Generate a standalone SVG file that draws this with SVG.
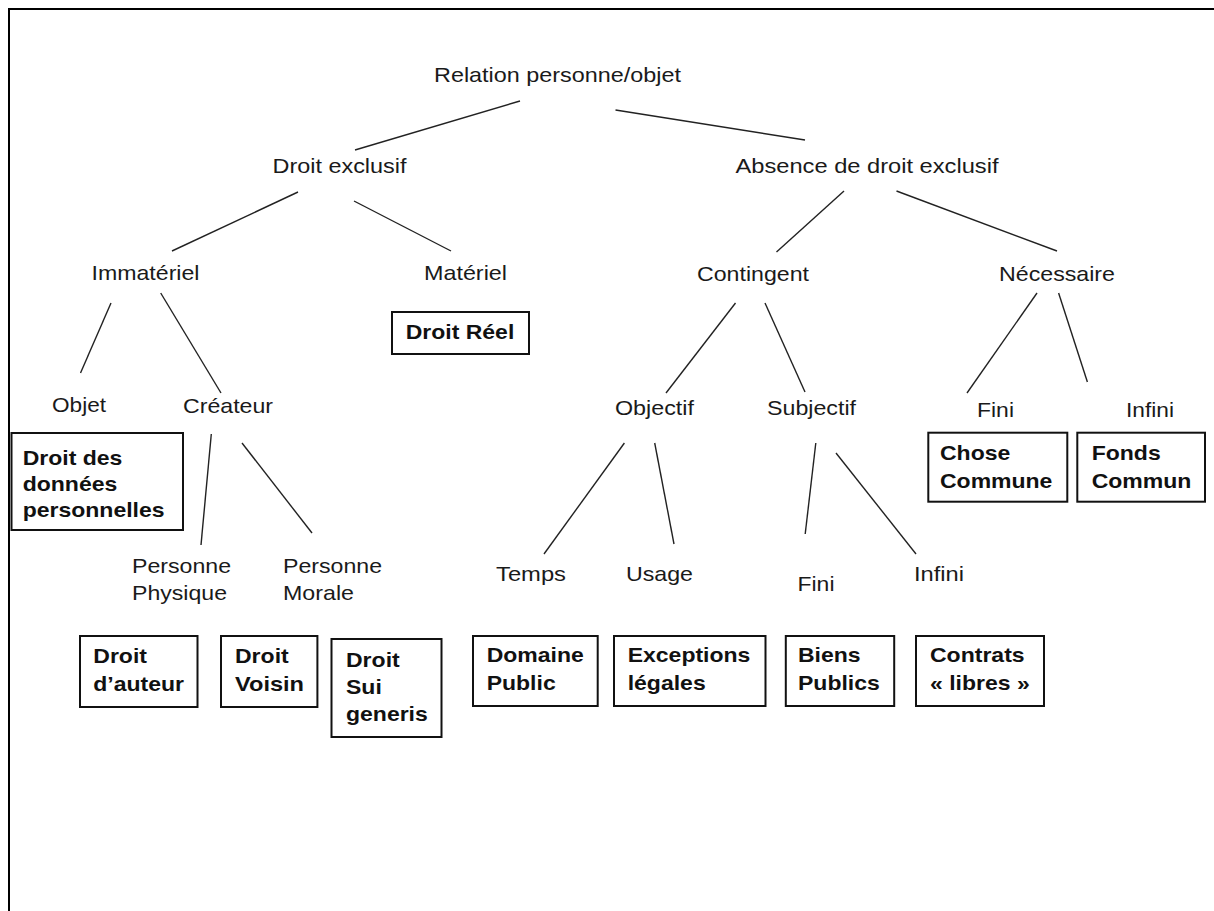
<svg xmlns="http://www.w3.org/2000/svg" width="1214" height="911" viewBox="0 0 1214 911">
<style>
.t{font-family:"Liberation Sans",Arial,Helvetica,sans-serif;font-size:21px;fill:#1a1a1a}
.b{font-family:"Liberation Sans",Arial,Helvetica,sans-serif;font-size:21px;font-weight:bold;fill:#111}
.box{fill:#fff;stroke:#111;stroke-width:2}
.edge line{stroke:#222;stroke-width:1.4}
</style>
<rect x="0" y="0" width="1214" height="911" fill="#fff"/>
<rect x="9" y="9" width="1230" height="930" fill="none" stroke="#000" stroke-width="2"/>
<g id="connectors" class="edge">
<line x1="520" y1="101" x2="355" y2="150"/>
<line x1="615.5" y1="110" x2="805" y2="140"/>
<line x1="298" y1="192" x2="172" y2="251"/>
<line x1="354" y1="201" x2="451" y2="251"/>
<line x1="844" y1="191" x2="776.5" y2="252"/>
<line x1="896.5" y1="191" x2="1057" y2="251"/>
<line x1="111" y1="303" x2="80.5" y2="373"/>
<line x1="160.7" y1="293" x2="221" y2="393"/>
<line x1="211.3" y1="434" x2="201" y2="545"/>
<line x1="242" y1="443" x2="312" y2="533"/>
<line x1="735.5" y1="303" x2="666" y2="393"/>
<line x1="765" y1="303" x2="805" y2="392"/>
<line x1="1037" y1="293" x2="967" y2="393"/>
<line x1="1058.6" y1="293" x2="1087.4" y2="382"/>
<line x1="624.4" y1="443" x2="544" y2="554"/>
<line x1="654.7" y1="443" x2="674" y2="544"/>
<line x1="815.8" y1="443" x2="805.2" y2="534"/>
<line x1="836" y1="453" x2="916" y2="554"/>
</g>
<g id="n-relation"><text class="t" x="434" y="82" textLength="247" lengthAdjust="spacingAndGlyphs">Relation personne/objet</text></g>
<g id="n-droit-exclusif"><text class="t" x="272.5" y="173" textLength="134" lengthAdjust="spacingAndGlyphs">Droit exclusif</text></g>
<g id="n-absence"><text class="t" x="735.5" y="173" textLength="263" lengthAdjust="spacingAndGlyphs">Absence de droit exclusif</text></g>
<g id="n-immateriel"><text class="t" x="91.5" y="280" textLength="108" lengthAdjust="spacingAndGlyphs">Immatériel</text></g>
<g id="n-materiel"><text class="t" x="424" y="280" textLength="83" lengthAdjust="spacingAndGlyphs">Matériel</text></g>
<g id="n-contingent"><text class="t" x="697" y="281" textLength="112" lengthAdjust="spacingAndGlyphs">Contingent</text></g>
<g id="n-necessaire"><text class="t" x="999" y="281" textLength="116" lengthAdjust="spacingAndGlyphs">Nécessaire</text></g>
<g id="n-droit-reel"><rect class="box" x="392" y="312" width="137" height="42"/><text class="b" x="405.7" y="339" textLength="108.6" lengthAdjust="spacingAndGlyphs">Droit Réel</text></g>
<g id="n-objet"><text class="t" x="52" y="412" textLength="54" lengthAdjust="spacingAndGlyphs">Objet</text></g>
<g id="n-createur"><text class="t" x="183" y="413" textLength="90" lengthAdjust="spacingAndGlyphs">Créateur</text></g>
<g id="n-objectif"><text class="t" x="615" y="415" textLength="79" lengthAdjust="spacingAndGlyphs">Objectif</text></g>
<g id="n-subjectif"><text class="t" x="767" y="415" textLength="89" lengthAdjust="spacingAndGlyphs">Subjectif</text></g>
<g id="n-fini-n"><text class="t" x="977" y="417" textLength="37" lengthAdjust="spacingAndGlyphs">Fini</text></g>
<g id="n-infini-n"><text class="t" x="1126" y="417" textLength="48" lengthAdjust="spacingAndGlyphs">Infini</text></g>
<g id="n-donnees"><rect class="box" x="11.5" y="433" width="171.5" height="97"/>
<text class="b"><tspan x="22.7" y="465" textLength="99.7" lengthAdjust="spacingAndGlyphs">Droit des</tspan><tspan x="22.7" y="491" textLength="94.6" lengthAdjust="spacingAndGlyphs">données</tspan><tspan x="22.7" y="517" textLength="141.9" lengthAdjust="spacingAndGlyphs">personnelles</tspan></text></g>
<g id="n-chose-commune"><rect class="box" x="928.3" y="432.7" width="139" height="69"/>
<text class="b"><tspan x="940" y="460" textLength="70.3" lengthAdjust="spacingAndGlyphs">Chose</tspan><tspan x="940" y="488" textLength="112.4" lengthAdjust="spacingAndGlyphs">Commune</tspan></text></g>
<g id="n-fonds-commun"><rect class="box" x="1077.3" y="432.7" width="127.7" height="69"/>
<text class="b"><tspan x="1091.7" y="460" textLength="69" lengthAdjust="spacingAndGlyphs">Fonds</tspan><tspan x="1091.7" y="488" textLength="99.7" lengthAdjust="spacingAndGlyphs">Commun</tspan></text></g>
<g id="n-personne-physique"><text class="t"><tspan x="132" y="573" textLength="99" lengthAdjust="spacingAndGlyphs">Personne</tspan><tspan x="132" y="600" textLength="95" lengthAdjust="spacingAndGlyphs">Physique</tspan></text></g>
<g id="n-personne-morale"><text class="t"><tspan x="283" y="573" textLength="99" lengthAdjust="spacingAndGlyphs">Personne</tspan><tspan x="283" y="600" textLength="71" lengthAdjust="spacingAndGlyphs">Morale</tspan></text></g>
<g id="n-temps"><text class="t" x="496" y="581" textLength="70" lengthAdjust="spacingAndGlyphs">Temps</text></g>
<g id="n-usage"><text class="t" x="626" y="581" textLength="67" lengthAdjust="spacingAndGlyphs">Usage</text></g>
<g id="n-fini-s"><text class="t" x="797.5" y="591" textLength="37" lengthAdjust="spacingAndGlyphs">Fini</text></g>
<g id="n-infini-s"><text class="t" x="914" y="581" textLength="50" lengthAdjust="spacingAndGlyphs">Infini</text></g>
<g id="n-droit-auteur"><rect class="box" x="80" y="636" width="117.5" height="71"/>
<text class="b"><tspan x="93.3" y="663" textLength="53.7" lengthAdjust="spacingAndGlyphs">Droit</tspan><tspan x="93.3" y="691" textLength="90.7" lengthAdjust="spacingAndGlyphs">d’auteur</tspan></text></g>
<g id="n-droit-voisin"><rect class="box" x="221" y="636" width="96.4" height="71"/>
<text class="b"><tspan x="235" y="663" textLength="53.7" lengthAdjust="spacingAndGlyphs">Droit</tspan><tspan x="235" y="691" textLength="69" lengthAdjust="spacingAndGlyphs">Voisin</tspan></text></g>
<g id="n-sui-generis"><rect class="box" x="331.5" y="639" width="110" height="98"/>
<text class="b"><tspan x="346" y="667" textLength="53.7" lengthAdjust="spacingAndGlyphs">Droit</tspan><tspan x="346" y="694" textLength="35.8" lengthAdjust="spacingAndGlyphs">Sui</tspan><tspan x="346" y="721" textLength="81.8" lengthAdjust="spacingAndGlyphs">generis</tspan></text></g>
<g id="n-domaine-public"><rect class="box" x="473" y="636" width="124.7" height="70"/>
<text class="b"><tspan x="486.7" y="662" textLength="97.1" lengthAdjust="spacingAndGlyphs">Domaine</tspan><tspan x="486.7" y="690" textLength="69" lengthAdjust="spacingAndGlyphs">Public</tspan></text></g>
<g id="n-exceptions"><rect class="box" x="614" y="636" width="151.5" height="70"/>
<text class="b"><tspan x="627.7" y="662" textLength="122.7" lengthAdjust="spacingAndGlyphs">Exceptions</tspan><tspan x="627.7" y="690" textLength="78" lengthAdjust="spacingAndGlyphs">légales</tspan></text></g>
<g id="n-biens-publics"><rect class="box" x="785.8" y="636" width="108.4" height="70"/>
<text class="b"><tspan x="798" y="662" textLength="62.6" lengthAdjust="spacingAndGlyphs">Biens</tspan><tspan x="798" y="690" textLength="81.8" lengthAdjust="spacingAndGlyphs">Publics</tspan></text></g>
<g id="n-contrats"><rect class="box" x="916" y="636" width="128" height="70"/>
<text class="b"><tspan x="930" y="662" textLength="94.6" lengthAdjust="spacingAndGlyphs">Contrats</tspan><tspan x="930" y="690" textLength="99.7" lengthAdjust="spacingAndGlyphs">« libres »</tspan></text></g>
</svg>
